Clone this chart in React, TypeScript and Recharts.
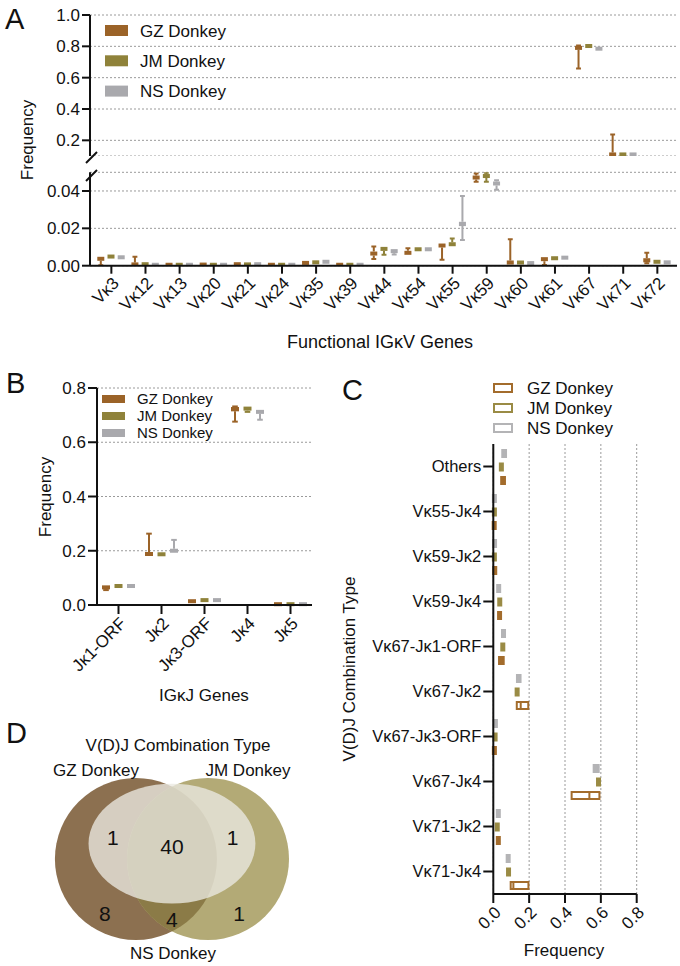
import React from "react";
import {
  ComposedChart,
  Bar,
  XAxis,
  YAxis,
  CartesianGrid,
  ScatterChart,
  Scatter,
} from "recharts";

const FONT = "'Liberation Sans', Arial, Helvetica, sans-serif";

const donkeys = ["GZ Donkey", "JM Donkey", "NS Donkey"];
const seriesKeys = ["gz", "jm", "ns"];
const fillColors = ["#9b6328", "#8f823a", "#a9a9ad"];
const lineColors = ["#a36c2c", "#9a8b45", "#b4b4b6"];

// IGκV usage, each entry is [min, q1, median, q3, max]
const vGenes = [
  "Vκ3", "Vκ12", "Vκ13", "Vκ20", "Vκ21", "Vκ24", "Vκ35", "Vκ39", "Vκ44",
  "Vκ54", "Vκ55", "Vκ59", "Vκ60", "Vκ61", "Vκ67", "Vκ71", "Vκ72",
];
const vGz = [
  [0.0003, 0.0032, 0.0037, 0.0043, 0.0045],
  [0.0002, 0.0004, 0.0007, 0.001, 0.0048],
  [0.0003, 0.0004, 0.0005, 0.0006, 0.0007],
  [0.0004, 0.0005, 0.0006, 0.0007, 0.0008],
  [0.0006, 0.0007, 0.0008, 0.001, 0.0011],
  [0.0003, 0.0004, 0.0005, 0.0006, 0.0007],
  [0.0012, 0.0013, 0.0015, 0.0018, 0.002],
  [0.0003, 0.0004, 0.0005, 0.0006, 0.0007],
  [0.0036, 0.0055, 0.0065, 0.0075, 0.0103],
  [0.006, 0.0062, 0.0069, 0.0078, 0.0094],
  [0.0032, 0.0098, 0.0108, 0.0115, 0.0118],
  [0.045, 0.0462, 0.0472, 0.048, 0.0494],
  [0.0004, 0.0006, 0.0015, 0.0028, 0.0141],
  [0.0004, 0.0026, 0.0035, 0.0042, 0.0046],
  [0.659, 0.782, 0.79, 0.8, 0.806],
  [0.104, 0.106, 0.11, 0.126, 0.238],
  [0.0013, 0.0018, 0.0025, 0.004, 0.0069],
];
const vJm = [
  [0.0044, 0.0046, 0.0049, 0.0052, 0.0054],
  [0.0006, 0.0007, 0.0008, 0.001, 0.0011],
  [0.0003, 0.0004, 0.0005, 0.0006, 0.0007],
  [0.0003, 0.0004, 0.0005, 0.0006, 0.0007],
  [0.0005, 0.0006, 0.0007, 0.0009, 0.001],
  [0.0003, 0.0004, 0.0005, 0.0006, 0.0007],
  [0.0014, 0.0016, 0.0018, 0.0021, 0.0023],
  [0.0003, 0.0004, 0.0005, 0.0006, 0.0007],
  [0.0058, 0.0082, 0.009, 0.0097, 0.01],
  [0.0085, 0.0086, 0.0088, 0.0091, 0.0092],
  [0.0105, 0.0108, 0.0115, 0.0125, 0.0145],
  [0.045, 0.047, 0.048, 0.049, 0.0497],
  [0.0007, 0.001, 0.0017, 0.0024, 0.0027],
  [0.003, 0.0034, 0.004, 0.0045, 0.005],
  [0.79, 0.796, 0.802, 0.808, 0.815],
  [0.105, 0.107, 0.11, 0.114, 0.117],
  [0.0013, 0.0017, 0.0021, 0.0026, 0.0029],
];
const vNs = [
  [0.004, 0.0042, 0.0045, 0.0047, 0.0049],
  [0.0003, 0.0004, 0.0005, 0.0006, 0.0007],
  [0.0003, 0.0004, 0.0005, 0.0006, 0.0007],
  [0.0003, 0.0004, 0.0005, 0.0006, 0.0007],
  [0.0006, 0.0007, 0.0008, 0.0009, 0.001],
  [0.0003, 0.0004, 0.0005, 0.0006, 0.0007],
  [0.0018, 0.0019, 0.0021, 0.0024, 0.0025],
  [0.0003, 0.0004, 0.0005, 0.0006, 0.0007],
  [0.006, 0.0072, 0.0078, 0.0083, 0.0085],
  [0.0082, 0.0084, 0.0088, 0.0092, 0.0094],
  [0.0138, 0.0212, 0.0225, 0.0235, 0.0373],
  [0.0406, 0.0433, 0.044, 0.0452, 0.0458],
  [0.0005, 0.0008, 0.0014, 0.0022, 0.0025],
  [0.003, 0.0036, 0.0043, 0.005, 0.0055],
  [0.776, 0.779, 0.785, 0.791, 0.795],
  [0.105, 0.107, 0.11, 0.114, 0.117],
  [0.001, 0.0014, 0.0018, 0.0023, 0.0027],
];

// IGκJ usage, [min, q1, median, q3, max]
const jGenes = ["Jκ1-ORF", "Jκ2", "Jκ3-ORF", "Jκ4", "Jκ5"];
const jGz = [
  [0.055, 0.06, 0.065, 0.07, 0.072],
  [0.181, 0.183, 0.188, 0.197, 0.263],
  [0.006, 0.01, 0.014, 0.02, 0.021],
  [0.676, 0.714, 0.722, 0.73, 0.732],
  [0.001, 0.002, 0.003, 0.004, 0.005],
];
const jJm = [
  [0.066, 0.067, 0.07, 0.073, 0.075],
  [0.181, 0.183, 0.187, 0.193, 0.195],
  [0.014, 0.015, 0.018, 0.021, 0.023],
  [0.712, 0.716, 0.724, 0.73, 0.733],
  [0.001, 0.002, 0.003, 0.004, 0.005],
];
const jNs = [
  [0.066, 0.067, 0.07, 0.073, 0.074],
  [0.191, 0.195, 0.2, 0.207, 0.24],
  [0.014, 0.015, 0.018, 0.021, 0.022],
  [0.683, 0.706, 0.712, 0.716, 0.72],
  [0.001, 0.002, 0.003, 0.004, 0.005],
];

// V-J combination frequency, [q1, median, q3]
const combos = [
  "Others", "Vκ55-Jκ4", "Vκ59-Jκ2", "Vκ59-Jκ4", "Vκ67-Jκ1-ORF",
  "Vκ67-Jκ2", "Vκ67-Jκ3-ORF", "Vκ67-Jκ4", "Vκ71-Jκ2", "Vκ71-Jκ4",
];
const comboGz = [
  [0.044, 0.054, 0.065], [0.001, 0.005, 0.01], [0.004, 0.008, 0.012],
  [0.03, 0.035, 0.04], [0.032, 0.045, 0.058], [0.131, 0.153, 0.195],
  [0.001, 0.006, 0.012], [0.437, 0.536, 0.592], [0.022, 0.028, 0.035],
  [0.097, 0.112, 0.196],
];
const comboJm = [
  [0.041, 0.045, 0.049], [0.002, 0.006, 0.01], [0.003, 0.006, 0.01],
  [0.03, 0.036, 0.042], [0.048, 0.053, 0.058], [0.127, 0.133, 0.14],
  [0.004, 0.01, 0.02], [0.58, 0.587, 0.595], [0.015, 0.022, 0.029],
  [0.08, 0.085, 0.092],
];
const comboNs = [
  [0.05, 0.06, 0.071], [0.001, 0.006, 0.011], [0.002, 0.007, 0.012],
  [0.022, 0.03, 0.038], [0.05, 0.057, 0.065], [0.132, 0.142, 0.152],
  [0.002, 0.01, 0.02], [0.56, 0.573, 0.588], [0.02, 0.028, 0.036],
  [0.075, 0.083, 0.091],
];

// shared V(D)J combination types
const vennRegions = ["GZ+NS", "GZ+JM+NS", "JM+NS", "GZ", "GZ+JM", "JM"];
const vennCounts = [1, 40, 1, 8, 4, 1];

// venn geometry in unit-circle coordinates
const VENN_SHAPES = [
  { key: "gz", cx: -0.445, cy: 0, rx: 1, ry: 1 },
  { key: "jm", cx: 0.445, cy: 0, rx: 1, ry: 1 },
  { key: "ns", cx: 0, cy: 0.19, rx: 1.03, ry: 0.74 },
];
const VENN_LABEL_AT = [
  [-0.73, 0.27], [0, 0.15], [0.75, 0.27], [-0.83, -0.67], [0, -0.75], [0.83, -0.67],
];
const VENN_X: [number, number] = [-2.123, 1.951];
const VENN_Y: [number, number] = [-1.247, 1.222];
const VENN_W = 330;
const VENN_H = 200;
const VENN_PX = VENN_W / (VENN_X[1] - VENN_X[0]);

const AXIS_BREAK = 0.05;

const toFive = (s: number[]) =>
  s.length === 3 ? [s[0], s[0], s[1], s[2], s[2]] : s;

const rangeOf = (key: string) => (d: any) => {
  const s = d[key];
  if (!s) return null;
  const f = toFive(s);
  return [f[0], f[4]];
};

// box with whiskers on a vertical bar
function VBox(props: any) {
  const { x, y, width, height, stats, color, minBox } = props;
  if (!stats || !isFinite(x) || !isFinite(y)) return <g />;
  const [mn, q1, md, q3, mx] = toFive(stats);
  const top = Math.min(y, y + height);
  const bot = Math.max(y, y + height);
  const at = (v: number) => bot - ((v - mn) / (mx - mn)) * (bot - top);
  const cx = x + width / 2;
  let hi = at(q3);
  let lo = at(q1);
  if (lo - hi < minBox) {
    const m = at(md);
    hi = m - minBox / 2;
    lo = m + minBox / 2;
  }
  const cap = width * 0.7;
  const yMax = at(mx);
  const yMin = at(mn);
  return (
    <g>
      {yMax < hi - 0.5 && (
        <g stroke={color} strokeWidth={2}>
          <line x1={cx} x2={cx} y1={yMax} y2={hi} />
          <line x1={cx - cap / 2} x2={cx + cap / 2} y1={yMax} y2={yMax} />
        </g>
      )}
      {yMin > lo + 0.5 && (
        <g stroke={color} strokeWidth={2}>
          <line x1={cx} x2={cx} y1={lo} y2={yMin} />
          <line x1={cx - cap / 2} x2={cx + cap / 2} y1={yMin} y2={yMin} />
        </g>
      )}
      <rect x={x} y={hi} width={width} height={lo - hi} fill={color} />
    </g>
  );
}

// outlined box on a horizontal bar
function HBox(props: any) {
  const { x, y, width, height, stats, color } = props;
  if (!stats || !isFinite(x) || !isFinite(y)) return <g />;
  const [mn, q1, md, q3, mx] = toFive(stats);
  const left = Math.min(x, x + width);
  const right = Math.max(x, x + width);
  const at = (v: number) => left + ((v - mn) / (mx - mn)) * (right - left);
  let a = at(q1);
  let b = at(q3);
  if (b - a < 3) {
    const m = at(md);
    a = m - 1.5;
    b = m + 1.5;
  }
  const t = Math.min(y, y + height);
  const h = Math.abs(height);
  return (
    <g stroke={color} strokeWidth={2}>
      <rect x={a} y={t + 1} width={b - a} height={h - 2} fill={b - a > 8 ? "#fff" : color} />
      {b - a > 8 && <line x1={at(md)} x2={at(md)} y1={t + 1} y2={t + h - 1} />}
    </g>
  );
}

function verticalBoxes(size: number, minBox: number) {
  return [0, 1, 2].map((i) => (
    <Bar
      key={seriesKeys[i]}
      name={donkeys[i]}
      dataKey={rangeOf(seriesKeys[i])}
      barSize={size}
      fill={fillColors[i]}
      isAnimationActive={false}
      shape={(p: any) => (
        <VBox {...p} stats={p.payload[seriesKeys[i]]} color={fillColors[i]} minBox={minBox} />
      )}
    />
  ));
}

const tickFont = { fill: "#111", fontSize: 17, fontFamily: FONT };
const axisStroke = { stroke: "#111", strokeWidth: 2 };
const gridProps = { stroke: "#9a9a9a", strokeDasharray: "2 2", strokeWidth: 1 };

function Legend({ x, y, step, w, h, hollow, size = 17 }: any) {
  return (
    <g>
      {donkeys.map((name, i) => (
        <g key={name}>
          {hollow ? (
            <rect x={x + 1} y={y + i * step - h / 2 + 1} width={w - 2} height={h - 2}
              fill="#fff" stroke={lineColors[i]} strokeWidth={2} />
          ) : (
            <rect x={x} y={y + i * step - h / 2} width={w} height={h} fill={fillColors[i]} />
          )}
          <text x={x + w + (hollow ? 14 : 12)} y={y + i * step + size * 0.36} fontSize={size}>
            {name}
          </text>
        </g>
      ))}
    </g>
  );
}

export default function App() {
  const vRows = vGenes.map((gene, i) => ({ gene, gz: vGz[i], jm: vJm[i], ns: vNs[i] }));
  const part = (s: number[], upper: boolean) =>
    s[4] > AXIS_BREAK === upper ? s : null;
  const upperRows = vRows.map((r) => ({
    gene: r.gene, gz: part(r.gz, true), jm: part(r.jm, true), ns: part(r.ns, true),
  }));
  const lowerRows = vRows.map((r) => ({
    gene: r.gene, gz: part(r.gz, false), jm: part(r.jm, false), ns: part(r.ns, false),
  }));
  const jRows = jGenes.map((gene, i) => ({ gene, gz: jGz[i], jm: jJm[i], ns: jNs[i] }));
  const cRows = combos.map((combo, i) => ({
    combo, gz: comboGz[i], jm: comboJm[i], ns: comboNs[i],
  }));
  const vennShapes = VENN_SHAPES.map((s) => ({ ...s, x: s.cx, y: s.cy }));
  const vennLabels = vennRegions.map((region, i) => ({
    region, n: vennCounts[i], x: VENN_LABEL_AT[i][0], y: VENN_LABEL_AT[i][1],
  }));

  const pos = (left: number, top: number): React.CSSProperties => ({
    position: "absolute", left, top,
  });

  return (
    <div style={{ position: "absolute", left: 0, top: 0, width: 680, height: 966, background: "#fff", fontFamily: FONT, color: "#111" }}>
      {/* A: upper segment of the broken axis */}
      <div style={pos(0, 0)}>
        <ComposedChart width={680} height={156} data={upperRows} barGap={3.2}
          margin={{ top: 15, right: 3, bottom: 0, left: 0 }}>
          <CartesianGrid vertical={false} {...gridProps} />
          <XAxis dataKey="gene" hide padding={{ left: 4.3, right: 2.6 }} />
          <YAxis type="number" domain={[0.1, 1]} ticks={[0.2, 0.4, 0.6, 0.8, 1.0]}
            allowDataOverflow width={90} tickSize={8} tick={tickFont}
            tickFormatter={(v: number) => v.toFixed(1)}
            axisLine={axisStroke} tickLine={axisStroke} />
          {verticalBoxes(7, 4)}
        </ComposedChart>
      </div>
      {/* A: lower segment */}
      <div style={pos(0, 160)}>
        <ComposedChart width={680} height={200} data={lowerRows} barGap={3.2}
          margin={{ top: 12.3, right: 3, bottom: 0, left: 0 }}>
          <CartesianGrid vertical={false} {...gridProps} />
          <XAxis dataKey="gene" interval={0} height={94.3} padding={{ left: 4.3, right: 2.6 }}
            tickSize={8} angle={-45} textAnchor="end" tick={tickFont}
            axisLine={axisStroke} tickLine={axisStroke} />
          <YAxis type="number" domain={[0, 0.05]} ticks={[0, 0.02, 0.04]}
            allowDataOverflow width={90} tickSize={8} tick={tickFont}
            tickFormatter={(v: number) => v.toFixed(2)}
            axisLine={axisStroke} tickLine={axisStroke} />
          {verticalBoxes(7, 4)}
        </ComposedChart>
      </div>
      {/* B: IGκJ usage */}
      <div style={pos(0, 370)}>
        <ComposedChart width={330} height={335} data={jRows} barGap={4.5}
          margin={{ top: 18, right: 18, bottom: 0, left: 0 }}>
          <CartesianGrid vertical={false} {...gridProps} />
          <XAxis dataKey="gene" interval={0} height={100} tickSize={9}
            angle={-45} textAnchor="end" tick={tickFont}
            axisLine={axisStroke} tickLine={axisStroke} />
          <YAxis type="number" domain={[0, 0.8]} ticks={[0, 0.2, 0.4, 0.6, 0.8]}
            width={97} tickSize={9} tick={tickFont}
            tickFormatter={(v: number) => v.toFixed(1)}
            axisLine={axisStroke} tickLine={axisStroke} />
          {verticalBoxes(8, 4)}
        </ComposedChart>
      </div>
      {/* C: V-J combinations */}
      <div style={pos(330, 370)}>
        <ComposedChart width={350} height={596} data={cRows} layout="vertical" barGap={4.5}
          margin={{ top: 74, right: 43.3, bottom: 0, left: 0 }}>
          <CartesianGrid horizontal={false} {...gridProps} />
          <XAxis type="number" domain={[0, 0.8]} ticks={[0, 0.2, 0.4, 0.6, 0.8]}
            height={72} tickSize={9} angle={-45} textAnchor="end" tick={tickFont}
            tickFormatter={(v: number) => v.toFixed(1)}
            axisLine={axisStroke} tickLine={axisStroke} />
          <YAxis type="category" dataKey="combo" width={163.3} tickSize={10} interval={0}
            tick={{ ...tickFont, fontSize: 16.5 }} axisLine={axisStroke} tickLine={axisStroke} />
          {[2, 1, 0].map((i) => (
            <Bar
              key={seriesKeys[i]}
              name={donkeys[i]}
              dataKey={rangeOf(seriesKeys[i])}
              barSize={9}
              fill={lineColors[i]}
              isAnimationActive={false}
              shape={(p: any) => (
                <HBox {...p} stats={p.payload[seriesKeys[i]]} color={lineColors[i]} />
              )}
            />
          ))}
        </ComposedChart>
      </div>
      {/* D: venn of shared combination types */}
      <div style={pos(0, 760)}>
        <ScatterChart width={VENN_W} height={VENN_H} margin={{ top: 0, right: 0, bottom: 0, left: 0 }}>
          <XAxis type="number" dataKey="x" domain={VENN_X} hide />
          <YAxis type="number" dataKey="y" domain={VENN_Y} hide />
          <Scatter
            data={vennShapes}
            isAnimationActive={false}
            shape={(p: any) => {
              const { cx, cy, payload } = p;
              const rx = payload.rx * VENN_PX;
              const ry = payload.ry * VENN_PX;
              if (payload.key === "gz") {
                return (
                  <g>
                    <defs>
                      <clipPath id="venn-gz-clip">
                        <ellipse cx={cx} cy={cy} rx={rx} ry={ry} />
                      </clipPath>
                    </defs>
                    <ellipse cx={cx} cy={cy} rx={rx} ry={ry} fill="#8c7050" />
                  </g>
                );
              }
              if (payload.key === "jm") {
                return (
                  <g>
                    <ellipse cx={cx} cy={cy} rx={rx} ry={ry} fill="#b3aa76" />
                    <ellipse cx={cx} cy={cy} rx={rx} ry={ry} fill="#8b7b47" clipPath="url(#venn-gz-clip)" />
                  </g>
                );
              }
              return <ellipse cx={cx} cy={cy} rx={rx} ry={ry} fill="#ebe9e1" fillOpacity={0.78} />;
            }}
          />
          <Scatter
            data={vennLabels}
            isAnimationActive={false}
            shape={(p: any) => (
              <text x={p.cx} y={p.cy + 7.5} textAnchor="middle" fontSize={21} fill="#111" fontFamily={FONT}>
                {p.payload.n}
              </text>
            )}
          />
        </ScatterChart>
      </div>

      <svg width={680} height={966} style={{ position: "absolute", left: 0, top: 0, pointerEvents: "none" }}
        fontFamily={FONT} fill="#111">
        {/* panel letters */}
        <text x={5} y={29} fontSize={29}>A</text>
        <text x={6} y={393} fontSize={29}>B</text>
        <text x={342} y={400} fontSize={29}>C</text>
        <text x={6} y={743} fontSize={29}>D</text>

        {/* axis break marks */}
        <g stroke="#111" strokeWidth={2}>
          <line x1={86} y1={163} x2={97} y2={152} />
          <line x1={86} y1={181} x2={97} y2={170} />
        </g>

        {/* axis titles */}
        <text transform="translate(33,140) rotate(-90)" textAnchor="middle" fontSize={17}>Frequency</text>
        <text x={380} y={348} textAnchor="middle" fontSize={18}>Functional IGκV Genes</text>
        <text transform="translate(51,497) rotate(-90)" textAnchor="middle" fontSize={17}>Frequency</text>
        <text x={204} y={701} textAnchor="middle" fontSize={17}>IGκJ Genes</text>
        <text transform="translate(355,669) rotate(-90)" textAnchor="middle" fontSize={17}>V(D)J Combination Type</text>
        <text x={564} y={956} textAnchor="middle" fontSize={17}>Frequency</text>

        {/* legends */}
        <Legend x={105} y={30.5} step={30.3} w={23} h={11} />
        <Legend x={102} y={399} step={17} w={23} h={8} size={15} />
        <Legend x={493} y={388} step={20} w={20} h={10} hollow />

        {/* venn titles */}
        <text x={178} y={751} textAnchor="middle" fontSize={17}>V(D)J Combination Type</text>
        <text x={96} y={776} textAnchor="middle" fontSize={17}>GZ Donkey</text>
        <text x={248} y={776} textAnchor="middle" fontSize={17}>JM Donkey</text>
        <text x={173} y={959} textAnchor="middle" fontSize={17}>NS Donkey</text>
      </svg>
    </div>
  );
}
